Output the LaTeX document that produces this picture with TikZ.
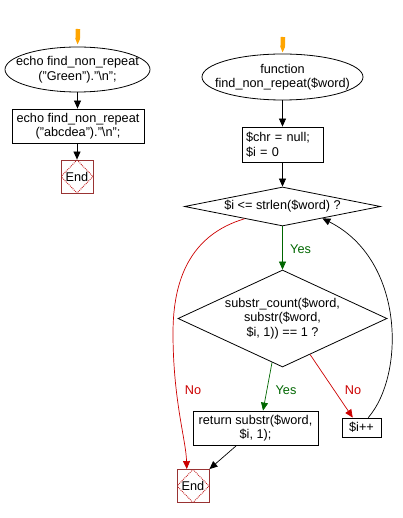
\documentclass[tikz,border=0pt]{standalone}
\usepackage{fontspec}
\setmainfont{Liberation Sans}
\usetikzlibrary{shapes.geometric,arrows.meta,calc}
\definecolor{flowgreen}{HTML}{006600}
\definecolor{flowred}{HTML}{CC0000}
\definecolor{flowor}{HTML}{FFA500}
\definecolor{endred}{HTML}{993333}
\begin{document}
\begin{tikzpicture}[x=1pt,y=-1pt,
  every node/.style={font=\fontsize{12.7}{14.5}\selectfont},
  ell/.style={ellipse, draw, line width=0.8pt, inner sep=0pt},
  box/.style={rectangle, draw, line width=0.8pt, inner sep=0pt, align=center},
  dia/.style={diamond, draw, line width=0.8pt, inner sep=0pt},
  txt/.style={align=center, inner sep=0pt},
  endbox/.style={rectangle, draw=endred, line width=0.9pt, minimum width=32pt, minimum height=33pt, inner sep=0pt,
    path picture={\draw[endred!60!red, densely dotted, line width=0.9pt] (path picture bounding box.north) -- (path picture bounding box.east) -- (path picture bounding box.south) -- (path picture bounding box.west) -- cycle;}},
  conn/.style={draw, line width=0.7pt, -{Triangle[length=8pt,width=7pt]}},
  startarrow/.style={draw=flowor, line width=4.5pt, -{Triangle[length=6pt,width=4.5pt]}},
  lbl/.style={inner sep=0pt}
]
\useasboundingbox (0,0) rectangle (402,518);

% left column
\node[ell, minimum width=145pt, minimum height=45pt] (e1) at (77.5,69.5) {};
\node[txt] (e1t) at (e1) {echo find\_non\_repeat\\("Green")."\textbackslash n";};
\node[box, minimum width=132pt, minimum height=34pt] (r1) at (78,126) {echo find\_non\_repeat\\("abcdea")."\textbackslash n";};
\node[endbox] (end1) at (77,176.5) {End};
\coordinate (s1) at (78,29);

% right column
\node[ell, minimum width=161pt, minimum height=46pt] (e2) at (282.5,77) {};
\node[txt] (e2t) at (e2) {function\\find\_non\_repeat(\$word)};
\coordinate (s2) at (283,37);
\node[box, minimum width=81pt, minimum height=35pt, align=left, text width=73pt, inner sep=4pt] (r2) at (282.5,144.5) {\$chr = null;\\\$i = 0};
\node[dia, minimum width=196pt, minimum height=39pt] (d1) at (282.5,206.5) {};
\node[txt] (d1t) at (d1) {\$i <= strlen(\$word) ?};
\node[dia, minimum width=209pt, minimum height=97pt] (d2) at (282.5,318.5) {};
\node[txt] (d2t) at (d2) {substr\_count(\$word,\\substr(\$word,\\\$i, 1)) == 1 ?};
\node[box, minimum width=125pt, minimum height=34pt] (r3) at (255.5,428) {return substr(\$word,\\\$i, 1);};
\node[box, minimum width=39pt, minimum height=19pt] (r4) at (361.5,427.5) {\$i++};
\node[endbox] (end2) at (193,486) {End};

% start arrows
\draw[startarrow, shorten >=2pt] (s1) -- (e1.north);
\draw[startarrow, shorten >=1pt] (s2) -- (e2.north);

% left connectors
\draw[conn] (e1.south) -- (e1.south |- r1.north);
\draw[conn] (r1.south -| end1.north) -- (end1.north);

% right connectors
\draw[conn] (e2.south) -- (r2.north);
\draw[conn] (r2.south) -- (d1.north);
\draw[conn, flowgreen] (d1.south) -- (d2.north);
\node[lbl, text=flowgreen, anchor=west] (ly1) at (290,249) {Yes};
\draw[conn, flowgreen] ($(d2.south)!0.1!(d2.west)$) -- ($(r3.north west)!0.56!(r3.north east)$);
\node[lbl, text=flowgreen] (ly2) at (286,390) {Yes};
\draw[conn, flowred] ($(d2.south)!0.263!(d2.east)$) -- ($(r4.north west)!0.28!(r4.north east)$);
\node[lbl, text=flowred] (ln2) at (353,390) {No};
\draw[conn] ($(r4.north west)!0.67!(r4.north east)$) .. controls (405,375) and (405,260) .. ($(d1.east)!0.595!(d1.south)$);
\coordinate (lm) at (173,333);
\draw[conn, flowred] ($(d1.west)!0.615!(d1.south)$) .. controls (190,235) and (173,280) .. (lm) .. controls (173,400) and (186,440) .. ($(end2.north west)!0.31!(end2.north east)$);
\node[lbl, text=flowred] (ln1) at (193,390) {No};
\draw[conn] ($(r3.south west)!0.35!(r3.south east)$) -- (end2.north east);
\end{tikzpicture}
\end{document}
